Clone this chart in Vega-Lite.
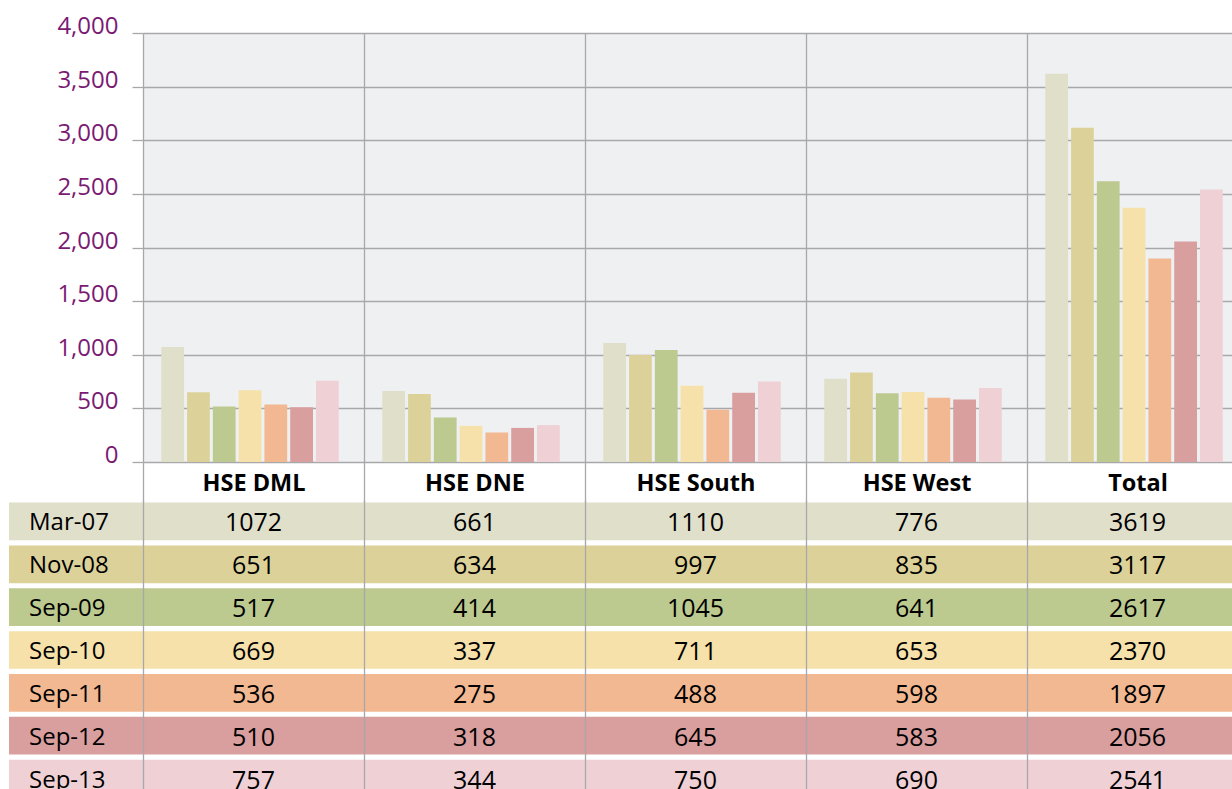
{
  "$schema": "https://vega.github.io/schema/vega-lite/v6.json",
  "padding": {"left": 9, "top": 14, "right": 0, "bottom": 0},
  "config": {"view": {"stroke": null}, "font": "Open Sans", "text": {"font": "Open Sans"}},
  "data": {"values": [
    {"region": "HSE DML", "period": "Mar-07", "value": 1072},
    {"region": "HSE DML", "period": "Nov-08", "value": 651},
    {"region": "HSE DML", "period": "Sep-09", "value": 517},
    {"region": "HSE DML", "period": "Sep-10", "value": 669},
    {"region": "HSE DML", "period": "Sep-11", "value": 536},
    {"region": "HSE DML", "period": "Sep-12", "value": 510},
    {"region": "HSE DML", "period": "Sep-13", "value": 757},
    {"region": "HSE DNE", "period": "Mar-07", "value": 661},
    {"region": "HSE DNE", "period": "Nov-08", "value": 634},
    {"region": "HSE DNE", "period": "Sep-09", "value": 414},
    {"region": "HSE DNE", "period": "Sep-10", "value": 337},
    {"region": "HSE DNE", "period": "Sep-11", "value": 275},
    {"region": "HSE DNE", "period": "Sep-12", "value": 318},
    {"region": "HSE DNE", "period": "Sep-13", "value": 344},
    {"region": "HSE South", "period": "Mar-07", "value": 1110},
    {"region": "HSE South", "period": "Nov-08", "value": 997},
    {"region": "HSE South", "period": "Sep-09", "value": 1045},
    {"region": "HSE South", "period": "Sep-10", "value": 711},
    {"region": "HSE South", "period": "Sep-11", "value": 488},
    {"region": "HSE South", "period": "Sep-12", "value": 645},
    {"region": "HSE South", "period": "Sep-13", "value": 750},
    {"region": "HSE West", "period": "Mar-07", "value": 776},
    {"region": "HSE West", "period": "Nov-08", "value": 835},
    {"region": "HSE West", "period": "Sep-09", "value": 641},
    {"region": "HSE West", "period": "Sep-10", "value": 653},
    {"region": "HSE West", "period": "Sep-11", "value": 598},
    {"region": "HSE West", "period": "Sep-12", "value": 583},
    {"region": "HSE West", "period": "Sep-13", "value": 690},
    {"region": "Total", "period": "Mar-07", "value": 3619},
    {"region": "Total", "period": "Nov-08", "value": 3117},
    {"region": "Total", "period": "Sep-09", "value": 2617},
    {"region": "Total", "period": "Sep-10", "value": 2370},
    {"region": "Total", "period": "Sep-11", "value": 1897},
    {"region": "Total", "period": "Sep-12", "value": 2056},
    {"region": "Total", "period": "Sep-13", "value": 2541}
  ]},
  "columns": 2,
  "bounds": "flush",
  "spacing": {"row": 38, "column": 0},
  "concat": [
    {
      "width": 134, "height": 429,
      "data": {"values": [{}]},
      "mark": {"type": "text", "text": ""}
    },
    {
      "width": 1105, "height": 429,
      "view": {"fill": "#EFF0F2", "stroke": null},
      "mark": {"type": "bar"},
      "encoding": {
        "x": {"field": "region", "type": "nominal", "sort": ["HSE DML", "HSE DNE", "HSE South", "HSE West", "Total"],
              "scale": {"paddingInner": 0, "paddingOuter": 0},
              "axis": {"title": null, "orient": "bottom", "domain": false, "tickBand": "extent", "grid": true,
                       "gridColor": "#A8A8AA", "gridWidth": 1.3, "ticks": true, "tickSize": 41, "tickColor": "#A8A8AA", "tickWidth": 1.3,
                       "labelFont": "Open Sans", "labelFontWeight": "bold", "labelFontSize": 23.5, "labelColor": "#000000",
                       "labelPadding": -32, "labelAngle": 0}},
        "xOffset": {"field": "period", "type": "nominal", "sort": ["Mar-07", "Nov-08", "Sep-09", "Sep-10", "Sep-11", "Sep-12", "Sep-13"],
                    "scale": {"paddingInner": 0.117, "paddingOuter": 0.843, "align": 0.42}},
        "y": {"field": "value", "type": "quantitative", "scale": {"domain": [0, 4000], "nice": false},
              "axis": {"title": null, "values": [0, 500, 1000, 1500, 2000, 2500, 3000, 3500, 4000], "format": ",d",
                       "domain": false, "tickSize": 11, "tickColor": "#A8A8AA", "tickWidth": 1.3, "grid": true,
                       "gridColor": "#A8A8AA", "gridWidth": 1.3, "labelColor": "#7B1A73", "labelFont": "Open Sans",
                       "labelFontSize": 24, "labelPadding": 14, "labelBaseline": "alphabetic", "labelOffset": 0.5}},
        "color": {"field": "period", "type": "nominal",
                  "scale": {"domain": ["Mar-07", "Nov-08", "Sep-09", "Sep-10", "Sep-11", "Sep-12", "Sep-13"],
                            "range": ["#E0DFCA", "#DCD299", "#BCC98F", "#F5E1A9", "#F2B892", "#D99E9E", "#EED0D5"]},
                  "legend": null}
      }
    },
    {
      "width": 134, "height": 300,
      "transform": [{"aggregate": [{"op": "count", "as": "n"}], "groupby": ["period"]}],
      "encoding": {
        "y": {"field": "period", "type": "nominal", "sort": ["Mar-07", "Nov-08", "Sep-09", "Sep-10", "Sep-11", "Sep-12", "Sep-13"],
              "scale": {"paddingInner": 0.12, "paddingOuter": 0.06}, "axis": null}
      },
      "layer": [
        {"mark": {"type": "rect"},
         "encoding": {"color": {"field": "period", "type": "nominal", "legend": null}}},
        {"mark": {"type": "text", "align": "left", "dx": -47, "dy": 2, "fontSize": 24, "font": "Open Sans", "color": "#000000"},
         "encoding": {"text": {"field": "period", "type": "nominal"}}}
      ]
    },
    {
      "width": 1105, "height": 300,
      "encoding": {
        "y": {"field": "period", "type": "nominal", "sort": ["Mar-07", "Nov-08", "Sep-09", "Sep-10", "Sep-11", "Sep-12", "Sep-13"],
              "scale": {"paddingInner": 0.12, "paddingOuter": 0.06}, "axis": null}
      },
      "layer": [
        {"transform": [{"aggregate": [{"op": "count", "as": "n"}], "groupby": ["period"]}],
         "mark": {"type": "rect"},
         "encoding": {"color": {"field": "period", "type": "nominal", "legend": null}}},
        {"mark": {"type": "text", "fontSize": 25, "dy": 2, "font": "Open Sans", "color": "#000000"},
         "encoding": {
           "x": {"field": "region", "type": "nominal", "sort": ["HSE DML", "HSE DNE", "HSE South", "HSE West", "Total"],
                 "scale": {"paddingInner": 0, "paddingOuter": 0},
                 "axis": {"title": null, "labels": false, "ticks": false, "domain": false, "grid": true, "tickBand": "extent",
                          "gridColor": "#A8A8AA", "gridWidth": 1.3, "zindex": 1}},
           "text": {"field": "value", "type": "quantitative", "format": "d"}
         }}
      ]
    }
  ]
}
